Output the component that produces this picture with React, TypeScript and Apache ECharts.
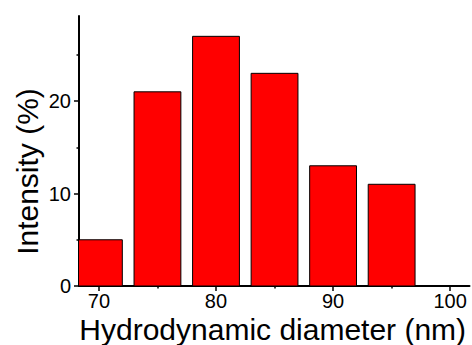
import React, { useEffect, useRef } from "react";
import * as echarts from "echarts";

const diameters = [70, 75, 80, 85, 90, 95];
const intensities = [5, 21, 27, 23, 13, 11];
const xMajorTicks = [70, 80, 90, 100];
const xMinorTicks = [75, 85, 95];
const yMajorTicks = [0, 10, 20];
const yMinorTicks = [5, 15, 25];
const xTitle = "Hydrodynamic diameter (nm)";
const yTitle = "Intensity (%)";

const FONT = "'Liberation Sans', Arial, sans-serif";
const BAR_HALF = 2;
const X_MIN = 68.3;
const X_MAX = 101.65;
const Y_MIN = 0;
const Y_MAX = 29.2;

export default function App() {
  const ref = useRef<HTMLDivElement>(null);
  useEffect(() => {
    if (!ref.current) return;
    const chart = echarts.init(ref.current, null, { renderer: "svg" });
    const axisLine = { show: true, lineStyle: { color: "#000", width: 2 } };
    const grid = { left: 79, right: 2.5, top: 16, bottom: 59, containLabel: false };
    chart.setOption({
      animation: false,
      backgroundColor: "#fff",
      grid,
      xAxis: [
        {
          type: "value",
          min: X_MIN,
          max: X_MAX,
          axisLine,
          splitLine: { show: false },
          axisTick: {
            show: true,
            customValues: xMajorTicks,
            length: 5,
            lineStyle: { color: "#000", width: 1.5 },
          },
          axisLabel: {
            customValues: xMajorTicks,
            fontSize: 20,
            color: "#000",
            fontFamily: FONT,
            margin: 5,
          },
        },
        {
          type: "value",
          min: X_MIN,
          max: X_MAX,
          position: "bottom",
          axisLine: { show: false },
          splitLine: { show: false },
          axisTick: {
            show: true,
            customValues: xMinorTicks,
            length: 2.5,
            lineStyle: { color: "#000", width: 1.5 },
          },
          axisLabel: { show: false },
        },
      ],
      yAxis: [
        {
          type: "value",
          min: Y_MIN,
          max: Y_MAX,
          axisLine,
          splitLine: { show: false },
          axisTick: {
            show: true,
            customValues: yMajorTicks,
            length: 5,
            lineStyle: { color: "#000", width: 1.5 },
          },
          axisLabel: {
            customValues: yMajorTicks,
            fontSize: 20,
            color: "#000",
            fontFamily: FONT,
            margin: 8,
          },
        },
        {
          type: "value",
          min: Y_MIN,
          max: Y_MAX,
          position: "left",
          axisLine: { show: false },
          splitLine: { show: false },
          axisTick: {
            show: true,
            customValues: yMinorTicks,
            length: 2.5,
            lineStyle: { color: "#000", width: 1.5 },
          },
          axisLabel: { show: false },
        },
      ],
      series: [
        {
          type: "custom",
          clip: true,
          xAxisIndex: 0,
          yAxisIndex: 0,
          data: diameters.map((d, i) => [d, intensities[i]]),
          renderItem: (params: any, api: any) => {
            const x = api.value(0);
            const y = api.value(1);
            const p1 = api.coord([x - BAR_HALF, y]);
            const p2 = api.coord([x + BAR_HALF, 0]);
            return {
              type: "rect",
              shape: { x: p1[0], y: p1[1], width: p2[0] - p1[0], height: p2[1] - p1[1] },
              style: { fill: "#ff0000", stroke: "#000", lineWidth: 1 },
            };
          },
        },
      ],
      graphic: [
        {
          type: "text",
          x: 272.7,
          y: 329,
          style: {
            text: xTitle,
            fontSize: 30,
            fontFamily: FONT,
            fill: "#000",
            align: "center",
            verticalAlign: "middle",
          },
        },
        {
          type: "text",
          x: 27,
          y: 171.5,
          rotation: Math.PI / 2,
          style: {
            text: yTitle,
            fontSize: 30,
            fontFamily: FONT,
            fill: "#000",
            align: "center",
            verticalAlign: "middle",
          },
        },
      ],
    });
    return () => chart.dispose();
  }, []);
  return (
    <div
      ref={ref}
      style={{ position: "absolute", left: 0, top: 0, width: 472, height: 345 }}
    />
  );
}
